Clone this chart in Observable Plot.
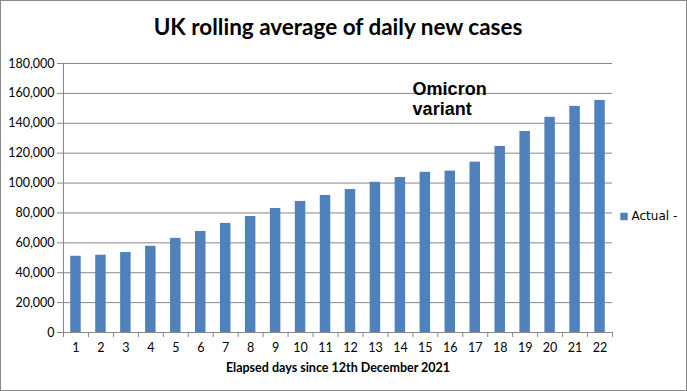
<!DOCTYPE html>
<html>
<head>
<meta charset="utf-8">
<script src="https://cdn.jsdelivr.net/npm/d3@7"></script>
<script src="https://cdn.jsdelivr.net/npm/@observablehq/plot@0.6"></script>
<style>
html, body { margin: 0; padding: 0; background: #fff; }
#chart svg { display: block; outline: 1px solid #888; outline-offset: -1px; }
</style>
</head>
<body>
<div id="chart"></div>
<script>
const days = [1,2,3,4,5,6,7,8,9,10,11,12,13,14,15,16,17,18,19,20,21,22];
const cases = [51000,51700,53500,57700,63000,67600,73000,77600,83000,87700,91700,95700,100500,103700,107200,108000,114000,124500,134500,144000,151300,155300];
const yTicks = [0,20000,40000,60000,80000,100000,120000,140000,160000,180000];
const title = "UK rolling average of daily new cases";
const xLabel = "Elapsed days since 12th December 2021";
const seriesName = "Actual -";
const note = "Omicron\nvariant";

const data = days.map((d, i) => ({day: d, value: cases[i]}));
const boundaries = d3.range(0.5, 23, 1);
const half = 0.21;
const font = "Lato, 'Open Sans', sans-serif";

const chart = Plot.plot({
  width: 687,
  height: 391,
  marginLeft: 63,
  marginRight: 75,
  marginTop: 63,
  marginBottom: 59,
  style: {fontFamily: font, fontSize: "12px", color: "#000", background: "#fff"},
  x: {type: "linear", domain: [0.5, 22.5], axis: null},
  y: {domain: [0, 180000], axis: null},
  marks: [
    Plot.gridY(yTicks, {stroke: "#878787", strokeOpacity: 1, strokeWidth: 1}),
    Plot.rectY(data, {x1: d => d.day - half, x2: d => d.day + half, y: "value", fill: "#4F81BD"}),
    // y axis
    Plot.axisY(yTicks, {tickSize: 6, tickPadding: 3, stroke: "#878787", tickFormat: d3.format(","), fontSize: 12.5, label: null}),
    Plot.ruleX([0.5], {stroke: "#878787"}),
    // x axis
    Plot.ruleY([0], {stroke: "#878787"}),
    Plot.axisX(boundaries, {tickSize: 5, text: null, stroke: "#878787", label: null}),
    Plot.axisX(days, {tickSize: 0, tickPadding: 11, tickFormat: d => String(d), fontSize: 12.5, label: null}),
    Plot.text([xLabel], {frameAnchor: "bottom", lineAnchor: "middle", dy: 35, fontWeight: "bold", fontSize: 12.5, fill: "#000"}),
    // title
    Plot.text([title], {frameAnchor: "top", lineAnchor: "middle", dy: -36, fontWeight: "bold", fontSize: 22.5, fill: "#000"}),
    // annotation
    Plot.text([note], {x: [14.49], y: [168500], textAnchor: "start", lineAnchor: "top", fontFamily: "'Liberation Sans', Arial, sans-serif", fontWeight: "bold", fontSize: 18, lineHeight: 1.13, fill: "#000"}),
    // legend
    Plot.dot([seriesName], {frameAnchor: "right", dx: 11.5, dy: 18.5, symbol: "square", r: 4.2, fill: "#4F81BD", stroke: null}),
    Plot.text([seriesName], {frameAnchor: "right", dx: 19, dy: 18.5, textAnchor: "start", fontSize: 12, fontFamily: "'DejaVu Sans', sans-serif", fill: "#000"})
  ]
});
document.getElementById("chart").appendChild(chart);
</script>
</body>
</html>
